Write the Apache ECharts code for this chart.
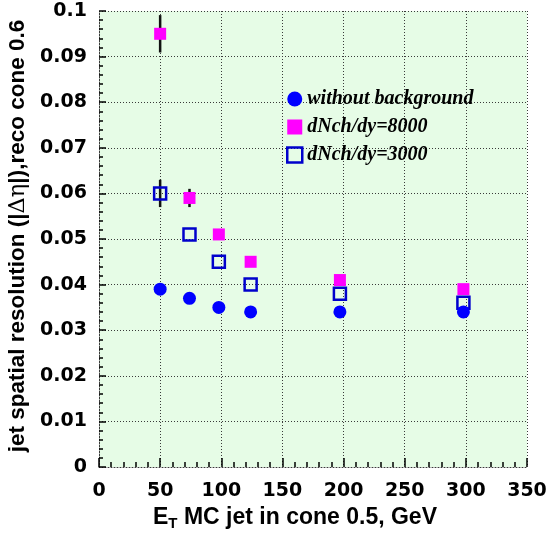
<!DOCTYPE html>
<html>
<head>
<meta charset="utf-8">
<script src="https://cdn.jsdelivr.net/npm/echarts@6/dist/echarts.min.js"></script>
<style>html,body{margin:0;padding:0;background:#fff;}#c{width:551px;height:533px;}</style>
</head>
<body>
<div id="c"></div>
<script>
// ---- data ----
var xNoBg = [50, 74, 98, 124, 197, 298];
var yNoBg = [0.039, 0.037, 0.035, 0.034, 0.034, 0.034];
var x8000 = [50, 74, 98, 124, 197, 298];
var y8000 = [0.095, 0.059, 0.051, 0.045, 0.041, 0.039];
var e8000 = [0.0041, 0.002, 0, 0, 0, 0];
var x3000 = [50, 74, 98, 124, 197, 298];
var y3000 = [0.060, 0.051, 0.045, 0.040, 0.038, 0.036];
var e3000 = [0.003, 0, 0, 0, 0, 0];
var seriesNames = ['without background', 'dNch/dy=8000', 'dNch/dy=3000'];

function pts(xs, ys) { return xs.map(function (x, i) { return [x, ys[i]]; }); }
function errs(xs, ys, es) {
  var out = [];
  xs.forEach(function (x, i) { if (es[i] > 0) out.push([x, ys[i], es[i]]); });
  return out;
}
function errRender(params, api) {
  var x = api.value(0), y = api.value(1), e = api.value(2);
  var p1 = api.coord([x, y - e]), p2 = api.coord([x, y + e]);
  return { type: 'line', shape: { x1: p1[0], y1: p1[1], x2: p2[0], y2: p2[1] },
    style: { stroke: '#111', lineWidth: 2.5 } };
}

var chart = echarts.init(document.getElementById('c'), null, { renderer: 'canvas' });
var dotted = { color: '#3a3a3a', width: 1, type: [1, 2] };
var labFont = { fontFamily: 'DejaVu Sans', fontWeight: 'bold', fontSize: 19, color: '#000' };

chart.setOption({
  animation: false,
  backgroundColor: '#fff',
  grid: { left: 99, right: 24, top: 11, bottom: 66, show: true, backgroundColor: '#e6fce6', borderWidth: 0,
          containLabel: false, outerBoundsMode: 'none' },
  legend: {
    orient: 'vertical', left: 281, top: 84, itemGap: 8, itemWidth: 15, itemHeight: 15,
    textStyle: { fontFamily: 'Liberation Serif', fontStyle: 'italic', fontWeight: 'bold', fontSize: 20, color: '#000' },
    data: [
      { name: seriesNames[0], icon: 'circle', itemStyle: { color: '#0000ff' } },
      { name: seriesNames[1], icon: 'rect', itemStyle: { color: '#ff00ff' } },
      { name: seriesNames[2], icon: 'rect', itemStyle: { color: 'transparent', borderColor: '#0000cc', borderWidth: 2.5 } }
    ]
  },
  xAxis: {
    type: 'value', min: 0, max: 350, interval: 50,
    axisLine: { show: true, lineStyle: dotted },
    axisTick: { show: true, inside: true, length: 9, lineStyle: { color: '#000', width: 1.5 } },
    minorTick: { show: true, splitNumber: 5, length: 5, lineStyle: { color: '#000', width: 1.5 } },
    splitLine: { show: true, lineStyle: dotted },
    axisLabel: Object.assign({ margin: 15 }, labFont),
    name: 'E{sub|T} MC jet in cone 0.5, GeV',
    nameLocation: 'middle', nameGap: 34,
    nameTextStyle: {
      fontFamily: 'Liberation Sans', fontWeight: 'bold', fontSize: 23, color: '#000', padding: [0, 36, 0, 0],
      rich: { sub: { fontFamily: 'Liberation Sans', fontWeight: 'bold', fontSize: 15, verticalAlign: 'bottom', padding: [13, 0, 0, 0] } }
    }
  },
  yAxis: {
    type: 'value', min: 0, max: 0.1, interval: 0.01,
    axisLine: { show: true, lineStyle: dotted },
    axisTick: { show: true, inside: true, length: 7, lineStyle: { color: '#000', width: 1.5 } },
    minorTick: { show: true, splitNumber: 5, length: 4, lineStyle: { color: '#000', width: 1.5 } },
    splitLine: { show: true, lineStyle: dotted },
    axisLabel: Object.assign({ margin: 12, formatter: function (v) { return String(+v.toFixed(3)); } }, labFont),
    name: 'jet spatial resolution (|{sym|Δη}|),reco cone 0.6',
    nameLocation: 'middle', nameGap: 58,
    nameTextStyle: {
      fontFamily: 'Liberation Sans', fontWeight: 'bold', fontSize: 22.5, color: '#000', padding: [0, 0, 0, 6],
      rich: { sym: { fontFamily: 'DejaVu Serif', fontWeight: 'normal', fontSize: 22.5 } }
    }
  },
  series: [
    { type: 'custom', name: 'err8000', renderItem: errRender, data: errs(x8000, y8000, e8000), z: 1, silent: true },
    { type: 'custom', name: 'err3000', renderItem: errRender, data: errs(x3000, y3000, e3000), z: 1, silent: true },
    { type: 'scatter', name: seriesNames[2], data: pts(x3000, y3000), symbol: 'rect', symbolSize: 12,
      itemStyle: { color: 'transparent', borderColor: '#0000cc', borderWidth: 2.5, opacity: 1 }, z: 3 },
    { type: 'scatter', name: seriesNames[1], data: pts(x8000, y8000), symbol: 'rect', symbolSize: 12,
      itemStyle: { color: '#ff00ff', opacity: 1 }, z: 2 },
    { type: 'scatter', name: seriesNames[0], data: pts(xNoBg, yNoBg), symbol: 'circle', symbolSize: 13,
      itemStyle: { color: '#0000ff', opacity: 1 }, z: 4 }
  ]
});
</script>
</body>
</html>
